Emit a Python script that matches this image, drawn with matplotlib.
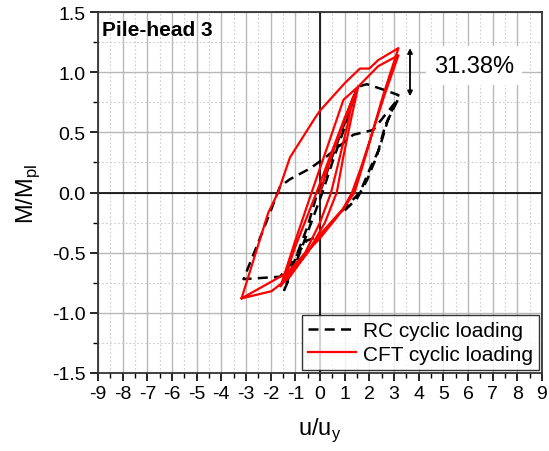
import matplotlib
matplotlib.use("Agg")
import matplotlib.pyplot as plt
from matplotlib.ticker import MultipleLocator

plt.rcParams['font.family'] = ['Liberation Sans', 'DejaVu Sans']

# Normalised displacement u/u_y and moment M/M_pl, RC pile head (cyclic)
rc_u = [0.0, 0.5, 1.0, 1.45, 1.1, 0.5, 0.1, -0.5, -1.0, -1.45,
        -1.0, -0.5, -0.1, 0.5, 1.0, 1.55, 1.9, 2.5, 3.18,
        2.75, 2.4, 2.03, 1.62, 0.95, 0.0, -0.54, -1.2, -1.62, -3.1,
        -2.57, -2.03, -1.62, -1.22, -0.4, 0.27, 1.35, 1.76, 2.16, 2.7, 3.18,
        2.65, 2.3, 1.9, 1.5, 0.9]
rc_m = [0.0, 0.3, 0.58, 0.84, 0.6, 0.25, 0.0, -0.33, -0.6, -0.81,
        -0.55, -0.28, 0.0, 0.32, 0.6, 0.88, 0.90, 0.86, 0.81,
        0.60, 0.36, 0.20, 0.0, -0.14, -0.36, -0.40, -0.6, -0.70, -0.72,
        -0.45, -0.17, 0.05, 0.11, 0.20, 0.30, 0.48, 0.50, 0.52, 0.66, 0.78,
        0.56, 0.30, 0.10, -0.05, -0.17]

# CFT pile head (cyclic)
cft_u = [0.0, 0.5, 1.0, 1.35, 1.1, 0.75, 0.45, 0.0, -0.6, -1.45,
         -1.0, -0.14, 0.5, 1.0, 1.55, 1.25, 0.95, 0.68, 0.2, -0.5, -1.6,
         -1.0, -0.34, 0.3, 0.95, 1.55, 2.36, 3.18,
         2.6, 2.1, 1.7, 1.4, 1.0, 0.0, -1.22, -1.96, -3.18,
         -2.1, -1.7, -1.22, -0.2, 0.0, 1.01, 1.62, 2.0, 2.36, 3.18,
         2.55, 2.05, 1.65, 1.3, 0.9, 0.0, -1.35, -3.18]
cft_m = [0.0, 0.32, 0.6, 0.80, 0.55, 0.25, 0.0, -0.25, -0.50, -0.72,
         -0.45, 0.0, 0.35, 0.62, 0.88, 0.60, 0.30, 0.0, -0.25, -0.50, -0.78,
         -0.40, 0.0, 0.38, 0.77, 0.88, 1.05, 1.14,
         0.80, 0.48, 0.20, 0.0, -0.12, -0.35, -0.70, -0.82, -0.88,
         -0.17, 0.0, 0.29, 0.62, 0.68, 0.91, 1.03, 1.03, 1.10, 1.20,
         0.80, 0.45, 0.20, 0.0, -0.15, -0.38, -0.67, -0.88]

x_ticks = list(range(-9, 10))
y_ticks = [-1.5, -1.0, -0.5, 0.0, 0.5, 1.0, 1.5]
gain_label = "31.38%"
gain_range = (0.80, 1.20)

fig = plt.figure(figsize=(5.49, 4.52), dpi=100)
ax = fig.add_axes([0.1785, 0.1726, 0.8087, 0.7986])

ax.set_xlim(-9, 9)
ax.set_ylim(-1.5, 1.5)
ax.set_xticks(x_ticks)
ax.set_yticks(y_ticks)
ax.set_xticklabels([str(v) for v in x_ticks])
ax.set_yticklabels([f"{v:.1f}" for v in y_ticks])
ax.xaxis.set_minor_locator(MultipleLocator(0.5))
ax.yaxis.set_minor_locator(MultipleLocator(0.25))

ax.grid(which='major', color='#b8b8b8', linewidth=1.0, linestyle='-', zorder=0)
ax.grid(which='minor', color='#cccccc', linewidth=0.8, linestyle=(0, (1.5, 2)), zorder=0)
ax.set_axisbelow(True)
ax.axhline(0, color='black', linewidth=1.2, zorder=1)
ax.axvline(0, color='black', linewidth=1.2, zorder=1)

ax.tick_params(which='major', direction='out', length=6, width=1.2, labelsize=14, pad=3)
ax.tick_params(which='minor', direction='out', length=3.5, width=1.0)
for s in ax.spines.values():
    s.set_linewidth(1.3)
    s.set_color('#333333')

ax.plot(rc_u, rc_m, color='black', linestyle=(0, (4, 2.5)), linewidth=1.8,
        label='RC cyclic loading', zorder=3)
ax.plot(cft_u, cft_m, color='#ff0000', linestyle='-', linewidth=1.6,
        label='CFT cyclic loading', zorder=4)

ax.set_xlabel(r'u/u$_\mathregular{y}$', fontsize=17, labelpad=9)
ax.set_ylabel(r'M/M$_\mathregular{pl}$', fontsize=17, labelpad=7)

ax.text(-8.85, 1.355, 'Pile-head 3', fontsize=15, fontweight='bold',
        ha='left', va='center', zorder=5)

ax.annotate('', xy=(3.65, gain_range[1]), xytext=(3.65, gain_range[0]),
            arrowprops=dict(arrowstyle='<|-|>', color='black', lw=1.3,
                            mutation_scale=7, shrinkA=0, shrinkB=0), zorder=5)
ax.text(6.25, 1.055, gain_label, fontsize=17, ha='center', va='center',
        bbox=dict(facecolor='white', edgecolor='none', pad=6), zorder=5)

leg = ax.legend(loc='lower right', fontsize=15, frameon=True, fancybox=False,
                borderaxespad=0.15, handlelength=2.3, handletextpad=0.3,
                borderpad=0.3, labelspacing=0.2)
leg.get_frame().set_edgecolor('black')
leg.get_frame().set_linewidth(1.0)

fig.savefig('out.png', dpi=100)
